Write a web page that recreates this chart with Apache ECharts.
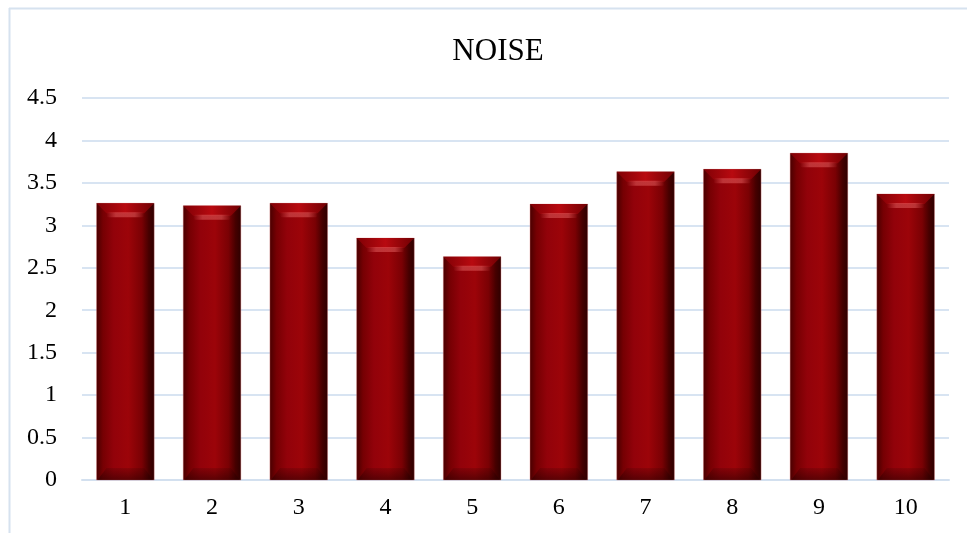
<!DOCTYPE html>
<html>
<head>
<meta charset="utf-8">
<script src="https://cdn.jsdelivr.net/npm/echarts@6/dist/echarts.min.js"></script>
<style>
  html, body { margin: 0; padding: 0; background: #ffffff; }
  #chart { width: 967px; height: 533px; }
</style>
</head>
<body>
<div id="chart"></div>
<script>
// Noise readings per sample
const categories = ['1', '2', '3', '4', '5', '6', '7', '8', '9', '10'];
const noiseValues = [3.26, 3.23, 3.26, 2.85, 2.63, 3.25, 3.63, 3.66, 3.85, 3.37];
const titleText = 'NOISE';

const serif = '"Liberation Serif", "DejaVu Serif", serif';

// Bevelled column: body with side shading, lit top bevel and dark foot.
function renderBevelBar(params, api) {
  const idx = api.value(0);
  const val = api.value(1);
  const top = api.coord([idx, val]);
  const base = api.coord([idx, 0]);
  const band = api.size([1, 0])[0];
  const w = band * 0.665;
  const x0 = top[0] - w / 2;
  const x1 = top[0] + w / 2;
  const y0 = top[1];
  const y1 = base[1];
  const b = 10;

  const body = {
    type: 'rect',
    shape: { x: x0, y: y0, width: w, height: y1 - y0 },
    style: {
      fill: new echarts.graphic.LinearGradient(0, 0, 1, 0, [
        { offset: 0, color: '#460000' },
        { offset: 0.12, color: '#760003' },
        { offset: 0.3, color: '#92020a' },
        { offset: 0.55, color: '#9c0409' },
        { offset: 0.78, color: '#7a0104' },
        { offset: 0.9, color: '#460000' },
        { offset: 1, color: '#2c0000' }
      ]),
      stroke: 'rgba(220,120,120,0.35)',
      lineWidth: 1
    }
  };
  const topBevel = {
    type: 'polygon',
    shape: { points: [[x0, y0], [x1, y0], [x1 - b, y0 + b], [x0 + b, y0 + b]] },
    style: {
      fill: new echarts.graphic.LinearGradient(0, 0, 1, 0, [
        { offset: 0, color: '#800005' },
        { offset: 0.5, color: '#b80a10' },
        { offset: 1, color: '#700003' }
      ])
    }
  };
  const highlight = {
    type: 'rect',
    shape: { x: x0 + b, y: y0 + b - 1, width: w - 2 * b, height: 5, r: 2 },
    style: {
      fill: new echarts.graphic.LinearGradient(0, 0, 1, 0, [
        { offset: 0, color: 'rgba(230,100,100,0)' },
        { offset: 0.25, color: 'rgba(230,100,100,0.5)' },
        { offset: 0.75, color: 'rgba(230,100,100,0.5)' },
        { offset: 1, color: 'rgba(230,100,100,0)' }
      ])
    }
  };
  const foot = {
    type: 'polygon',
    shape: { points: [[x0 + 1, y1], [x1 - 1, y1], [x1 - b, y1 - b - 2], [x0 + b, y1 - b - 2]] },
    style: {
      fill: new echarts.graphic.LinearGradient(0, 0, 0, 1, [
        { offset: 0, color: 'rgba(40,0,0,0.15)' },
        { offset: 1, color: 'rgba(40,0,0,0.55)' }
      ])
    }
  };
  return { type: 'group', children: [body, topBevel, highlight, foot] };
}

const chart = echarts.init(document.getElementById('chart'), null, { renderer: 'canvas' });

chart.setOption({
  backgroundColor: '#ffffff',
  animation: false,
  title: {
    text: titleText,
    left: 493,
    top: 31,
    textAlign: 'center',
    textStyle: { fontFamily: serif, fontSize: 31, fontWeight: 'normal', color: '#000000' }
  },
  graphic: [
    { type: 'line', shape: { x1: 9, y1: 8.5, x2: 967, y2: 8.5 }, style: { stroke: '#d6e2ef', lineWidth: 2 } },
    { type: 'line', shape: { x1: 9.5, y1: 8, x2: 9.5, y2: 533 }, style: { stroke: '#d6e2ef', lineWidth: 2 } }
  ],
  grid: { left: 82, right: 18, top: 98, bottom: 53, containLabel: false },
  xAxis: {
    type: 'category',
    data: categories,
    axisLine: { show: true, lineStyle: { color: '#d3e0ef', width: 2 } },
    axisTick: { show: false },
    axisLabel: { fontFamily: serif, fontSize: 24, color: '#000000', margin: 16 }
  },
  yAxis: {
    type: 'value',
    min: 0,
    max: 4.5,
    interval: 0.5,
    axisLine: { show: false },
    axisTick: { show: false },
    splitLine: { lineStyle: { color: '#d8e4f2', width: 2 } },
    axisLabel: { fontFamily: serif, fontSize: 24, color: '#000000', margin: 25 }
  },
  series: [{
    type: 'custom',
    renderItem: renderBevelBar,
    encode: { x: 0, y: 1 },
    data: noiseValues.map((v, i) => [i, v])
  }]
});
</script>
</body>
</html>
